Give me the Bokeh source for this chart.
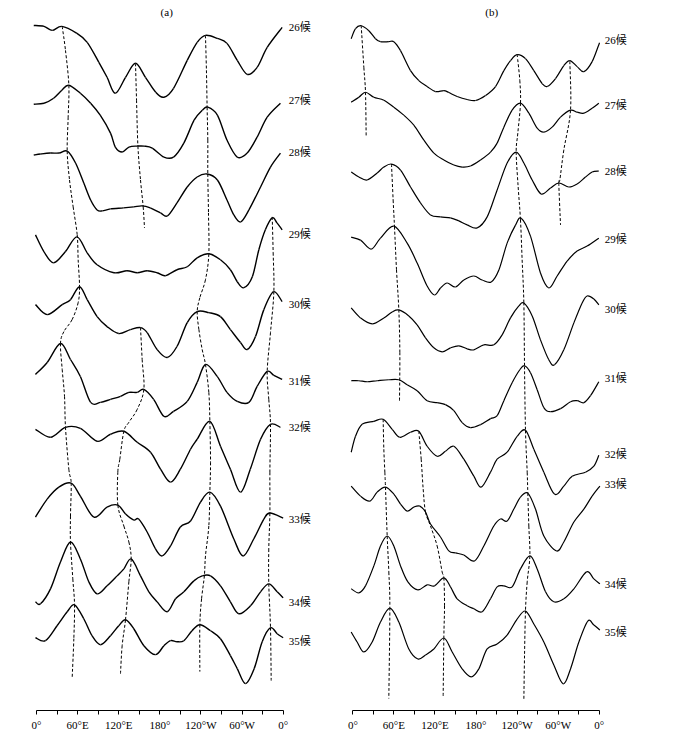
from bokeh.plotting import figure
from bokeh.layouts import row
from bokeh.models import LinearAxis, FixedTicker, Range1d, ColumnDataSource
from bokeh.core.properties import value
from bokeh.embed import file_html
from bokeh.resources import INLINE

PENTADS = ["26候", "27候", "28候", "29候", "30候", "31候", "32候", "33候", "34候", "35候"]
TICK_LONS = [0, 30, 60, 90, 120, 150, 180, 210, 240, 270, 300, 330, 360]
TICK_LABELS = {0: "0°", 60: "60°E", 120: "120°E", 180: "180°", 240: "120°W", 300: "60°W", 360: "0°"}

# ---------------- panel (a) ----------------
A_BASE = [685, 612, 560, 478, 408, 330, 284, 192, 109, 70]
A26 = [(-4, 2), (11, 1), (23, -3), (37, 1), (59, -6), (74, -15), (91, -35), (103, -50), (115, -66), (130, -50),
       (144.5, -36), (159, -50), (174, -65), (186, -70), (200, -61), (220, -33), (234.5, -15), (246.6, -8),
       (263.7, -11), (278, -16), (293, -33), (307.5, -47), (322, -40), (336.7, -20), (358.5, 0)]
A27 = [(-4, -4), (11, -3), (25, 2), (37, 10), (47, 15), (64, 7), (79, -3), (93, -15), (108, -33), (115, -47),
       (125, -52), (135, -47), (147, -46), (157, -46), (169, -48), (186, -57), (200, -57), (215, -43), (230, -20),
       (242, -10), (250, -7), (264, -15), (278, -40), (293, -57), (307.5, -53), (322, -37), (336.7, -17), (356, -3)]
A28 = [(-4, -3), (6, -2), (20, -1), (33, -1), (45, 1), (57, -11), (69, -31), (79, -48), (88.5, -58), (96, -59),
       (108, -57), (127, -56), (142, -55), (154, -54), (166, -56), (181, -61), (191, -64), (205, -51), (220, -35),
       (234.5, -25), (249, -22), (264, -28), (278, -48), (288, -63), (298, -70), (310, -58), (327, -35),
       (341.5, -15), (356, -1)]
A29 = [(-1.5, -1), (11, -18), (25, -29), (42, -18), (59, -3), (74, -19), (88.5, -31), (113, -39), (132, -37),
       (147, -39), (161.5, -37), (176, -39), (188, -42), (205, -36), (220, -33), (234.5, -24), (251.5, -20),
       (268.5, -26), (283, -36), (293, -48), (302.6, -54), (315, -43), (324.5, -16), (334, 4), (344, 16),
       (351, 11), (358.5, 4)]
A30 = [(-1.5, -1), (15.6, -11), (37.5, -1), (49.6, 4), (62.8, 17), (74, 4), (88.5, -13), (103, -23), (120, -30),
       (137, -26), (152, -24), (161.5, -29), (176, -46), (190.7, -54), (205, -43), (220, -19), (234.5, -8),
       (251.5, -9), (268.5, -13), (283, -26), (297.7, -39), (307.5, -46), (319.6, -33), (331.8, -6), (346, 12),
       (358.5, 2)]
A31 = [(-1.5, 7), (15.6, 19), (35, 38), (49.6, 22), (64, 5), (79, -21), (93.4, -21), (108, -18), (122.6, -15),
       (134.8, -11), (147, -11), (156.7, -8), (171, -18), (186, -35), (200, -30), (220, -20), (234.5, -1),
       (246.6, 17), (263.7, 5), (278, -11), (293, -20), (310, -21), (322, -5), (336.7, 10), (346.4, 6),
       (358.5, 2)]
A32 = [(-1.5, -2), (20.4, -10), (42.3, 0), (64, -1), (88.5, -14), (108, -7), (127.5, -4), (147, -15),
       (166.4, -25), (181, -42), (195.6, -55), (210, -42), (224.8, -22), (234.5, -12), (253, 6), (268.5, -19),
       (283, -42), (297.7, -65), (312, -42), (327, -12), (341.5, 3), (356, 0)]
A33 = [(-1.5, 2), (15.6, 20), (32.6, 32), (50.6, 36), (64, 23), (83.7, 2), (103, 12), (118.7, 14), (130, 5),
       (142, -1), (149, 0), (161.5, -13), (173.7, -30), (183.4, -37), (195.6, -27), (210, -8), (224.8, -2),
       (239.4, 17), (253, 27), (268.5, 13), (288, -20), (301.6, -37), (317, -20), (331.8, 0), (340.6, 6),
       (360, 1)]
A34 = [(-1.5, 0), (5.8, -2), (20.4, 13), (35, 40), (49.6, 60), (64, 43), (76.4, 20), (88.5, 8), (103, 16),
       (117.7, 26), (127.5, 33), (138.2, 43), (151.8, 26), (164, 10), (176, 0), (190.7, -10), (202.9, 3),
       (215, 10), (229.6, 21), (241.8, 26), (254, 26), (268.5, 16), (283, 0), (295.3, -12), (312.3, -4),
       (327, 10), (339, 18), (351.3, 10), (360, 4)]
A35 = [(-1.5, 3), (13, 0), (30, 15), (44.8, 29), (55.5, 36), (69, 22), (81, 5), (93.4, -4), (108, 5), (120, 15),
       (130, 21), (142, 12), (156.7, -5), (173.7, -14), (186, -5), (195.6, 0), (205, -1), (215, 0), (227, 10),
       (238.4, 16), (254, 10), (268.5, 2), (283, -15), (293, -28), (305, -43), (317.7, -28), (329.4, -1),
       (341.5, 13), (351.3, 7), (360, 3)]
A_RIDGE1 = [(37.5, 686), (42.3, 662), (47.2, 627), (46.2, 595), (44.8, 561), (48.2, 532), (53.5, 505),
            (59.4, 477), (60.8, 452), (62.8, 425), (60.8, 409), (52, 392), (40, 380), (35, 368), (37.5, 342),
            (40.9, 315), (42.3, 284), (47.2, 242), (50.6, 228), (49.6, 195), (49.6, 169), (53, 132), (55.5, 106),
            (54.5, 72), (52, 32)]
A_RIDGE2 = [(144.5, 649), (146, 612), (148, 566), (151.8, 532), (155.7, 505), (157.6, 484)]
A_RIDGE3 = [(151.8, 384), (154.2, 352), (156.7, 322), (147, 302), (134.8, 289), (127.5, 280), (121.6, 252),
            (118.7, 239), (118.7, 206), (127.5, 185), (134.8, 169), (138.2, 152), (134.8, 129), (129.9, 91),
            (125, 65), (122.6, 37)]
A_RIDGE4 = [(246.6, 677), (248, 642), (249, 605), (250, 572), (250, 538), (251, 499), (251.5, 458), (246.6, 432),
            (238.4, 414), (234.5, 400), (237, 382), (241.8, 362), (246.6, 347), (251.5, 319), (253, 290),
            (254, 249), (253, 219), (251.5, 185), (246.6, 155), (245, 135), (240.9, 112), (238.4, 86),
            (238.4, 39)]
A_RIDGE5 = [(344, 495), (345.4, 459), (346.4, 420), (341.5, 379), (336.7, 340), (339, 312), (341.5, 287),
            (340.6, 239), (340.6, 198), (339, 162), (339, 127), (341.5, 83), (342.5, 30)]

# ---------------- panel (b) ----------------
B_BASE = [672.7, 607, 541, 472.7, 402.7, 333.7, 257, 227, 127, 78.7]
B26 = [(-2.4, 1), (3.9, 11), (12.2, 14), (23.4, 9), (33.1, 1), (40.4, -2), (52.6, -2), (59.9, -2), (69.7, -11),
       (84.3, -31), (96.4, -41), (108.6, -47), (120.8, -52), (133, -51), (140.3, -53), (152.5, -57), (167, -60),
       (179.3, -61), (193.9, -56), (208.5, -47), (220.7, -31), (230.4, -21), (240.1, -15), (252.3, -19),
       (264.5, -31), (276.7, -44), (284, -47), (296.2, -39), (308.3, -26), (317.1, -21), (327.8, -27),
       (337.6, -32), (349.7, -22), (360.5, -3)]
B27 = [(-2.4, 3), (8.8, 8), (18.5, 13), (30.7, 8), (45.3, 5), (59.9, -2), (74.5, -10), (89.1, -20), (103.8, -35),
       (118.4, -48), (133, -55), (147.6, -60), (159.8, -62), (172, -61), (186.6, -55), (201.2, -47), (210.9, -38),
       (220.7, -22), (232.8, -5), (245, 2), (257.2, -8), (269.4, -23), (279.1, -27), (291.3, -22), (303.5, -12),
       (318.1, -5), (327.8, -7), (337.6, -8), (349.7, -3), (359.5, 2)]
B28 = [(-2.4, -1), (8.8, -6), (20.9, -9), (35.6, -2), (45.3, 4), (56.5, 7), (69.7, 1), (84.3, -16), (98.9, -32),
       (113.5, -44), (128.1, -46), (142.7, -47), (154.9, -50), (167.1, -54), (181.7, -57), (196.3, -46),
       (210.9, -19), (225.5, 8), (238.7, 19), (249.9, 8), (262.1, -9), (275.2, -23), (288.9, -17), (301, -12),
       (315.6, -16), (327.8, -13), (340, -6), (349.7, -1), (359.5, 0)]
B29 = [(-2.4, 2), (11.2, -1), (26.8, -10), (40.4, 1), (59.9, 13), (79.4, -4), (94, -24), (108.6, -47),
       (119.3, -56), (128.1, -49), (137.8, -44), (150, -48), (162.2, -41), (176.8, -37), (189, -41),
       (202.2, -43), (213.4, -31), (225.5, -4), (237.7, 14), (246, 21), (259.6, 3), (274.2, -34), (286.4, -49),
       (298.6, -37), (313.2, -22), (327.8, -12), (342.4, -7), (359.5, 1)]
B30 = [(-2.4, 1), (11.2, -9), (28.3, -15), (45.3, -9), (57.5, -3), (67.2, -1), (81.8, -7), (94, -16),
       (106.2, -29), (118.4, -39), (130.5, -43), (142.7, -39), (154.9, -37), (167.1, -40), (176.8, -41),
       (191.4, -36), (206, -36), (218.2, -26), (230.4, -9), (242.6, 3), (249.9, 6), (262.1, -7), (274.2, -31),
       (286.4, -51), (294.7, -56), (308.3, -41), (323, -14), (335.1, 6), (342.4, 13), (352.2, 10), (359.5, 4)]
B31 = [(-2.4, -3), (8.8, -3), (20.9, -4), (35.6, -3), (52.6, -2), (67.2, -2), (79.4, -7), (94, -13),
       (108.6, -23), (123.2, -25), (135.4, -27), (147.6, -33), (159.8, -45), (172, -50), (186.6, -47),
       (201.2, -41), (210.9, -38), (220.7, -23), (232.8, -5), (244, 8), (250.9, 12), (259.6, 5), (269.4, -12),
       (279.1, -30), (288.9, -34), (303.5, -31), (318.1, -24), (327.8, -23), (337.6, -25), (347.3, -18),
       (359.5, -4)]
B32 = [(-2.4, 2), (3.9, 18), (13.6, 30), (30.7, 33), (44.3, 35), (57.5, 25), (68.7, 17), (84.3, 22), (96.4, 23),
       (108.6, 8), (123.2, -2), (135.4, 3), (147.6, 8), (162.2, -5), (176.8, -22), (187.5, -33), (201.2, -18),
       (210.9, -5), (225.5, 2), (240.1, 18), (252.3, 24), (264.5, 5), (279.1, -18), (294.7, -40), (308.3, -32),
       (320.5, -22), (340, -18), (352.2, -12), (359.5, -1)]
B33 = [(-2.4, -2), (11.2, -12), (24.8, -17), (35.6, -8), (47.7, -3), (59.9, -10), (69.7, -20), (79.4, -27),
       (89.1, -23), (97.9, -22), (106.2, -28), (113.5, -40), (128.1, -53), (140.3, -67), (150, -69),
       (162.2, -71), (177.8, -77), (191.4, -62), (206, -42), (215.8, -35), (225.5, -37), (235.3, -25),
       (245, -13), (255.7, -9), (266.9, -25), (279.1, -52), (297.6, -67), (308.3, -58), (323, -38),
       (337.6, -25), (349.7, -12), (361, -2)]
B34 = [(-2.4, -5), (8.8, -9), (18.5, -2), (30.7, 18), (40.4, 38), (50.2, 48), (59.9, 38), (69.7, 18), (80.4, 2),
       (95, -6), (108.6, -1), (119.3, -2), (133, 6), (142.7, -3), (152.5, -15), (167.1, -22), (176.8, -25),
       (189, -28), (201.2, -15), (210.9, -3), (220.7, -2), (232.8, -3), (245, 15), (258.7, 28), (269.4, 15),
       (281.6, -8), (293.7, -18), (308.3, -15), (323, -5), (341.5, 12), (352.2, 5), (361, 0)]
B35 = [(-2.4, 0), (6.3, -10), (16.1, -20), (28.3, -10), (40.4, 10), (54.1, 24), (67.2, 10), (81.8, -17),
       (95, -27), (106.2, -23), (118.4, -17), (133, -6), (145.2, -20), (159.8, -37), (172.9, -45), (184.1, -37),
       (196.3, -17), (210.9, -12), (225.5, -3), (240.1, 13), (252.3, 21), (264.5, 8), (279.1, -10),
       (293.7, -33), (307.4, -52), (318.1, -37), (330.3, -10), (343.4, 11), (352.2, 7), (361, 2)]
B_RIDGE1 = [(12.2, 687), (16.1, 645), (18.5, 620), (19.5, 575)]
B_RIDGE2 = [(56.5, 548), (58.9, 512), (60.9, 485), (63.8, 442), (67.2, 402), (68.7, 359), (68.2, 310)]
B_RIDGE3 = [(240.1, 658), (244, 632), (245, 609), (241.1, 579), (238.7, 560), (241.6, 525), (245, 492),
            (247.4, 452), (249.9, 409), (250.9, 345), (252.3, 281), (254.8, 239), (255.7, 218), (257.2, 185),
            (258.7, 155), (254.8, 129), (252.3, 100), (250.9, 55), (249.9, 10)]
B_RIDGE4 = [(317.1, 651), (318.1, 602), (308.3, 562), (302.5, 532), (301, 529), (303.5, 487)]
B_RIDGE5 = [(44.3, 292), (45.3, 262), (46.8, 239), (47.7, 224), (50.2, 175), (52.6, 139), (54.1, 103),
            (52.6, 12)]
B_RIDGE6 = [(96.4, 280), (99.9, 252), (102.8, 222), (106.2, 199), (113.5, 185), (123.2, 165), (130.5, 139),
            (133, 133), (134, 105), (133, 73), (132, 14)]

SERIF = value("Liberation Serif, Noto Sans CJK SC")


def smooth_segments(xs, ys):
    """Bezier segments through the read points (curve passes exactly through each point)."""
    n = len(xs)
    seg = dict(x0=[], y0=[], x1=[], y1=[], cx0=[], cy0=[], cx1=[], cy1=[])
    for i in range(n - 1):
        xa, ya = xs[max(i - 1, 0)], ys[max(i - 1, 0)]
        xb, yb = xs[i], ys[i]
        xc, yc = xs[i + 1], ys[i + 1]
        xd, yd = xs[min(i + 2, n - 1)], ys[min(i + 2, n - 1)]
        seg["x0"].append(xb); seg["y0"].append(yb)
        seg["x1"].append(xc); seg["y1"].append(yc)
        seg["cx0"].append(xb + (xc - xa) / 6.0); seg["cy0"].append(yb + (yc - ya) / 6.0)
        seg["cx1"].append(xc - (xd - xb) / 6.0); seg["cy1"].append(yc - (yd - yb) / 6.0)
    return ColumnDataSource(seg)


def make_panel(curves, bases, ridges, title, title_lon, x_start, x_end, width, lw):
    p = figure(width=width, height=733, output_backend="svg", toolbar_location=None,
               x_axis_type=None, y_axis_type=None,
               x_range=Range1d(x_start, x_end), y_range=Range1d(0, 712),
               min_border_left=0, min_border_right=0, min_border_top=0, min_border_bottom=21)
    p.outline_line_color = None
    p.background_fill_color = "white"
    p.border_fill_color = "white"
    for pts, base in zip(curves, bases):
        src = smooth_segments([q[0] for q in pts], [base + q[1] for q in pts])
        p.bezier(x0="x0", y0="y0", x1="x1", y1="y1", cx0="cx0", cy0="cy0", cx1="cx1", cy1="cy1",
                 source=src, line_color="black", line_width=lw)
    for pts in ridges:
        src = smooth_segments([q[0] for q in pts], [q[1] for q in pts])
        p.bezier(x0="x0", y0="y0", x1="x1", y1="y1", cx0="cx0", cy0="cy0", cx1="cx1", cy1="cy1",
                 source=src, line_color="black", line_width=1, line_dash="3 2")
    p.text(x=[368] * len(PENTADS), y=bases, text=PENTADS, text_font=SERIF,
           text_font_size="11px", text_baseline="middle", text_align="left", text_color="black")
    p.text(x=[title_lon], y=[700], text=[title], text_font=SERIF, text_font_size="11px",
           text_baseline="middle", text_align="center", text_color="black")
    ax = LinearAxis(bounds=(0, 360), ticker=FixedTicker(ticks=TICK_LONS))
    ax.major_label_overrides = {t: TICK_LABELS.get(t, "") for t in TICK_LONS}
    ax.major_tick_out = 4
    ax.major_tick_in = 0
    ax.minor_tick_out = 0
    ax.minor_tick_in = 0
    ax.major_label_standoff = 4
    ax.major_label_text_font = "Liberation Serif"
    ax.major_label_text_font_size = "11px"
    ax.major_label_text_color = "black"
    ax.axis_line_color = "black"
    ax.major_tick_line_color = "black"
    p.add_layout(ax, "below")
    return p


pa = make_panel([A26, A27, A28, A29, A30, A31, A32, A33, A34, A35], A_BASE,
                [A_RIDGE1, A_RIDGE2, A_RIDGE3, A_RIDGE4, A_RIDGE5], "(a)", 190,
                -52.54, 440.75, 338, 1.4)
pb = make_panel([B26, B27, B28, B29, B30, B31, B32, B33, B34, B35], B_BASE,
                [B_RIDGE1, B_RIDGE2, B_RIDGE3, B_RIDGE4, B_RIDGE5, B_RIDGE6], "(b)", 203,
                -20.94, 475.9, 340, 1.2)

layout = row(pa, pb)
open("out.html", "w").write(file_html(layout, INLINE))
